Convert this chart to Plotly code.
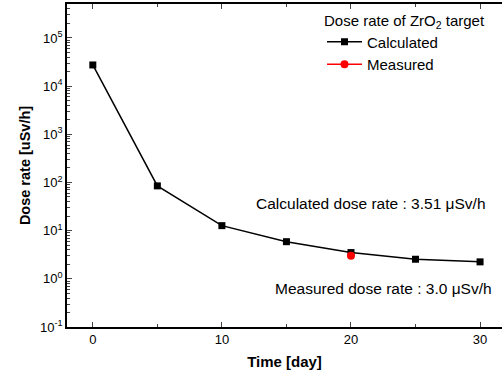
import plotly.graph_objects as go

days = [0, 5, 10, 15, 20, 25, 30]
calculated = [27500, 85, 12.7, 5.9, 3.51, 2.55, 2.25]
measured_day = [20]
measured = [3.0]

ytick_vals = [0.1, 1, 10, 100, 1000, 10000, 100000]
ytick_text = ["10<sup>-1</sup>", "10<sup>0</sup>", "10<sup>1</sup>", "10<sup>2</sup>",
              "10<sup>3</sup>", "10<sup>4</sup>", "10<sup>5</sup>"]
xtick_vals = [0, 10, 20, 30]

FONT = "Liberation Sans, Arial, sans-serif"
L, T, B = 67, 4, 49
W, H = 502, 376
PW, PH = W - L, H - T - B


def px(xp):
    return (xp - L) / PW


def py(yp):
    return (H - B - yp) / PH


fig = go.Figure()
fig.add_trace(go.Scatter(x=days, y=calculated, mode="lines+markers", name="Calculated",
                         line=dict(color="black", width=1.5),
                         marker=dict(symbol="square", size=7, color="black")))
fig.add_trace(go.Scatter(x=measured_day, y=measured, mode="lines+markers", name="Measured",
                         line=dict(color="red", width=1.5),
                         marker=dict(symbol="circle", size=8, color="red")))

fig.add_annotation(xref="paper", yref="paper", x=px(371), y=py(203), xanchor="center", yanchor="middle",
                   text="Calculated dose rate : 3.51 μSv/h", showarrow=False,
                   font=dict(family=FONT, size=15.5, color="black"))
fig.add_annotation(xref="paper", yref="paper", x=px(383), y=py(288), xanchor="center", yanchor="middle",
                   text="Measured dose rate : 3.0 μSv/h", showarrow=False,
                   font=dict(family=FONT, size=15.5, color="black"))

fig.update_layout(
    width=W, height=H,
    margin=dict(l=L, r=0, t=T, b=B, autoexpand=False),
    paper_bgcolor="white", plot_bgcolor="white",
    font=dict(family=FONT, size=13, color="black"),
    showlegend=True,
    legend=dict(
        title=dict(text="Dose rate of ZrO<sub>2</sub> target", font=dict(family=FONT, size=15)),
        x=px(322), y=py(6), xanchor="left", yanchor="top",
        bgcolor="rgba(0,0,0,0)", font=dict(family=FONT, size=15),
        tracegroupgap=0, itemwidth=35,
    ),
    xaxis=dict(
        range=[-2, 31.7], tickvals=xtick_vals, ticks="inside", ticklen=5, tickwidth=1,
        minor=dict(tickvals=[5, 15, 25], ticks="inside", ticklen=3, tickwidth=1),
        showline=True, linecolor="black", linewidth=1.5, mirror="ticks",
        showgrid=False, zeroline=False, automargin=False,
        title=dict(text="<b>Time [day]</b>", font=dict(family=FONT, size=15), standoff=10),
        tickfont=dict(family=FONT, size=13),
    ),
    yaxis=dict(
        type="log", range=[-1, 5.705], tickvals=ytick_vals, ticktext=ytick_text,
        ticks="inside", ticklen=5, tickwidth=1,
        minor=dict(ticks="inside", ticklen=3, tickwidth=1, dtick="D1"),
        showline=True, linecolor="black", linewidth=1.5,
        showgrid=False, zeroline=False, automargin=False,
        title=dict(text="<b>Dose rate [uSv/h]</b>", font=dict(family=FONT, size=14.5), standoff=6),
        tickfont=dict(family=FONT, size=13),
    ),
)

fig.write_html("out.html", config={"displayModeBar": False},
               post_script="document.body.style.margin='0';document.body.style.overflow='hidden';")
